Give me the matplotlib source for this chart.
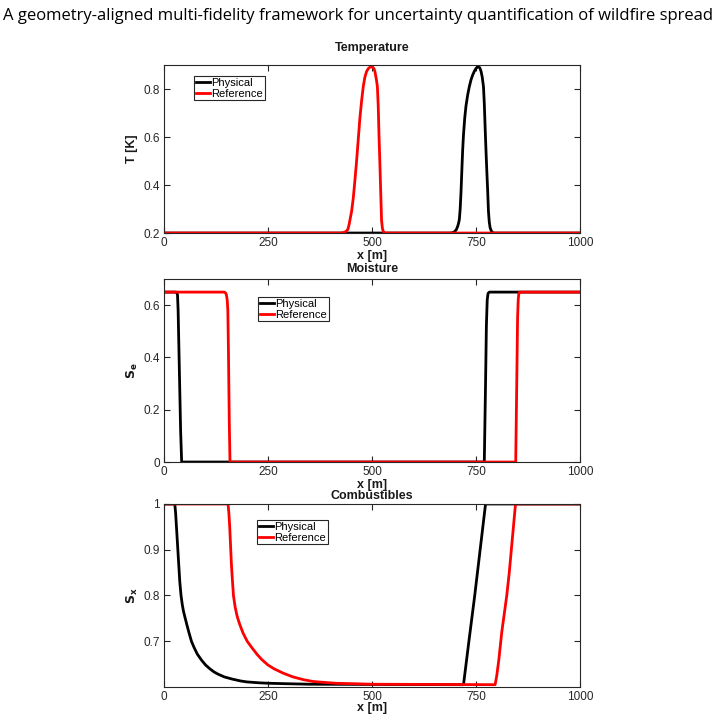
import matplotlib
matplotlib.use('Agg')
import matplotlib.pyplot as plt

plt.rcParams['font.family'] = ['Liberation Sans', 'DejaVu Sans']

# Temperature profiles
temp_phys_x = [0, 688, 694, 699, 703, 706, 708, 710, 712, 714, 716, 718, 720, 723, 726,
               730, 734, 738, 742, 746, 750, 755, 759, 762, 765, 768, 770, 772, 774,
               776, 778, 780, 782, 784, 787, 790, 794, 1000]
temp_phys = [0.2, 0.2, 0.202, 0.206, 0.215, 0.228, 0.24, 0.256, 0.30, 0.37, 0.46, 0.546,
             0.61, 0.68, 0.73, 0.775, 0.81, 0.838, 0.858, 0.874, 0.886, 0.893, 0.889,
             0.875, 0.85, 0.81, 0.74, 0.64, 0.546, 0.46, 0.38, 0.29, 0.245, 0.222,
             0.208, 0.202, 0.2, 0.2]
temp_ref_x = [0, 425, 432, 438, 442, 445, 447, 451, 455, 459, 463, 467, 471, 475, 479,
              483, 487, 491, 495, 499, 502, 505, 507, 509, 511, 513, 515, 517, 519,
              521, 523, 525, 527, 530, 534, 1000]
temp_ref = [0.2, 0.2, 0.202, 0.207, 0.215, 0.235, 0.254, 0.29, 0.345, 0.42, 0.50, 0.59,
            0.68, 0.75, 0.81, 0.85, 0.873, 0.885, 0.891, 0.893, 0.891, 0.884, 0.873,
            0.855, 0.835, 0.81, 0.73, 0.60, 0.49, 0.37, 0.254, 0.22, 0.207, 0.201,
            0.2, 0.2]

# Moisture profiles
moist_phys_x = [0, 29, 31, 32.5, 34, 37, 40, 42.5, 770, 773, 775, 777, 779, 782, 1000]
moist_phys = [0.65, 0.65, 0.647, 0.64, 0.58, 0.35, 0.12, 0, 0, 0.3, 0.52, 0.62, 0.645,
              0.65, 0.65]
moist_ref_x = [0, 145, 148, 150, 152, 153.5, 155, 157, 158.7, 845.5, 848, 850, 851.5,
               853, 855, 1000]
moist_ref = [0.65, 0.65, 0.647, 0.64, 0.62, 0.58, 0.42, 0.15, 0, 0, 0.3, 0.55, 0.62,
             0.645, 0.65, 0.65]

# Combustibles profiles
comb_phys_x = [0, 26, 28, 30, 32, 34, 36, 38, 41, 44, 47, 50, 55, 60, 66, 72, 80, 90,
               100, 110, 120, 130, 145, 165, 185, 200, 230, 255, 300, 350, 720, 733,
               747, 760, 773, 1000]
comb_phys = [1, 1, 0.98, 0.95, 0.92, 0.89, 0.86, 0.83, 0.80, 0.78, 0.765, 0.754, 0.736,
             0.719, 0.700, 0.687, 0.672, 0.659, 0.648, 0.640, 0.633, 0.628, 0.622, 0.617,
             0.613, 0.611, 0.609, 0.608, 0.607, 0.606, 0.605, 0.70, 0.80, 0.90, 1, 1]
comb_ref_x = [0, 154, 156, 158, 160, 162, 164, 167, 171, 176, 182, 190, 200, 212, 225,
              235, 250, 265, 287, 310, 335, 358, 385, 415, 460, 500, 796, 800, 805,
              812, 818, 824, 830, 835, 840, 845, 1000]
comb_ref = [1, 1, 0.98, 0.95, 0.91, 0.87, 0.84, 0.80, 0.775, 0.754, 0.737, 0.718, 0.70,
            0.685, 0.67, 0.66, 0.648, 0.6395, 0.63, 0.622, 0.616, 0.612, 0.61, 0.608,
            0.607, 0.606, 0.605, 0.625, 0.66, 0.72, 0.76, 0.80, 0.85, 0.90, 0.95, 1, 1]

x_ticks = [0, 250, 500, 750, 1000]

fig = plt.figure(figsize=(7.17, 7.21), dpi=100)
sup = fig.text(0.004, 0.978, 'A geometry-aligned multi-fidelity framework for uncertainty quantification of wildfire spread',
               fontsize=12, ha='left', va='center', family=['Open Sans', 'DejaVu Sans'])
# fit the heading to the width it has in the source page
r = fig.canvas.get_renderer()
w = sup.get_window_extent(renderer=r).width
sup.set_fontsize(12 * 709 / w)

panels = [
    dict(rect=[0.2287, 0.6768, 0.5802, 0.2330], title='Temperature', ylabel='T [K]',
         ylim=(0.2, 0.9), yticks=[0.2, 0.4, 0.6, 0.8], yticklabels=['0.2', '0.4', '0.6', '0.8'],
         phys=(temp_phys_x, temp_phys), ref=(temp_ref_x, temp_ref), leg=(0.072, 0.935),
         title_off=17, xlab_off=23),
    dict(rect=[0.2287, 0.3592, 0.5802, 0.2538], title='Moisture', ylabel=r'$\mathbf{S_e}$',
         ylim=(0, 0.7), yticks=[0, 0.2, 0.4, 0.6], yticklabels=['0', '0.2', '0.4', '0.6'],
         phys=(moist_phys_x, moist_phys), ref=(moist_ref_x, moist_ref), leg=(0.226, 0.902),
         title_off=10, xlab_off=23),
    dict(rect=[0.2287, 0.0472, 0.5802, 0.2538], title='Combustibles', ylabel=r'$\mathbf{S_x}$',
         ylim=(0.6, 1.0), yticks=[0.7, 0.8, 0.9, 1.0], yticklabels=['0.7', '0.8', '0.9', '1'],
         phys=(comb_phys_x, comb_phys), ref=(comb_ref_x, comb_ref), leg=(0.224, 0.913),
         title_off=8, xlab_off=21),
]

for p in panels:
    ax = fig.add_axes(p['rect'])
    ax.plot(p['phys'][0], p['phys'][1], color='black', lw=2, label='Physical')
    ax.plot(p['ref'][0], p['ref'][1], color='red', lw=2, label='Reference')
    ax.set_xlim(0, 1000)
    ax.set_ylim(*p['ylim'])
    ax.set_xticks(x_ticks)
    ax.set_xticklabels([str(t) for t in x_ticks])
    ax.set_yticks(p['yticks'])
    ax.set_yticklabels(p['yticklabels'])
    ax.tick_params(direction='in', top=True, right=True, length=4, width=0.8,
                   labelsize=8.5, colors='#262626', pad=3)
    for s in ax.spines.values():
        s.set_color('#262626')
        s.set_linewidth(0.8)

    h_px = p['rect'][3] * 721
    ax.text(0.5, 1 + p['title_off'] / h_px, p['title'], transform=ax.transAxes,
            ha='center', va='center', fontsize=9, fontweight='bold', color='#1a1a1a')
    ax.text(0.5, -p['xlab_off'] / h_px, 'x [m]', transform=ax.transAxes,
            ha='center', va='center', fontsize=9, fontweight='bold', color='#1a1a1a')
    ax.text(-32 / 416, 0.5, p['ylabel'], transform=ax.transAxes, rotation=90,
            ha='center', va='center', fontsize=9, fontweight='bold', color='#1a1a1a')

    leg = ax.legend(loc='upper left', bbox_to_anchor=p['leg'], fontsize=8,
                    handlelength=1.3, handletextpad=0.1, borderpad=0.15,
                    labelspacing=0.1, borderaxespad=0, fancybox=False,
                    framealpha=1, edgecolor='#262626')
    leg.get_frame().set_linewidth(0.8)

fig.savefig('out.png', dpi=100)
